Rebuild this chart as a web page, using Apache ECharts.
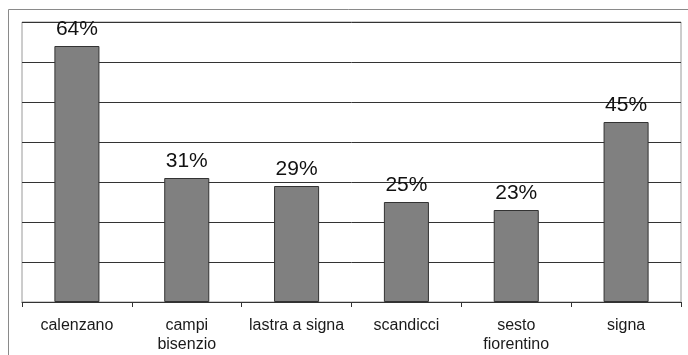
<!DOCTYPE html>
<html>
<head>
<meta charset="utf-8">
<script src="https://cdn.jsdelivr.net/npm/echarts@6/dist/echarts.min.js"></script>
<style>
  html, body { margin: 0; padding: 0; background: #ffffff; }
  #chart { width: 688px; height: 355px; }
</style>
</head>
<body>
<div id="chart"></div>
<script>
// Comuni and the share (percent) for each one
const categories = ['calenzano', 'campi\nbisenzio', 'lastra a signa', 'scandicci', 'sesto\nfiorentino', 'signa'];
const values = [64, 31, 29, 25, 23, 45];
const yMax = 70;
const yStep = 10;

const chart = echarts.init(document.getElementById('chart'), null, { renderer: 'canvas' });

chart.setOption({
  backgroundColor: '#ffffff',
  animation: false,
  grid: { left: 22, right: 7, top: 22, bottom: 53, show: true, borderColor: '#9a9a9a', borderWidth: 1, backgroundColor: 'transparent' },
  graphic: [
    {
      type: 'rect',
      shape: { x: 8.5, y: 9.5, width: 700, height: 400 },
      style: { fill: 'none', stroke: '#8a8a8a', lineWidth: 1 },
      z: -1
    }
  ],
  xAxis: {
    type: 'category',
    data: categories,
    axisLine: { show: true, lineStyle: { color: '#333333', width: 1 } },
    axisTick: { show: true, alignWithLabel: false, length: 5, lineStyle: { color: '#333333' } },
    axisLabel: {
      color: '#1a1a1a',
      fontFamily: 'Liberation Sans, Arial, sans-serif',
      fontSize: 16,
      lineHeight: 19,
      margin: 14,
      interval: 0
    }
  },
  yAxis: {
    type: 'value',
    min: 0,
    max: yMax,
    interval: yStep,
    axisLine: { show: false },
    axisTick: { show: false },
    axisLabel: { show: false },
    splitLine: { show: true, lineStyle: { color: '#333333', width: 1 } }
  },
  series: [
    {
      type: 'bar',
      data: values,
      barWidth: '41%',
      itemStyle: { color: '#808080', borderColor: '#333333', borderWidth: 1 },
      label: {
        show: true,
        position: 'top',
        distance: 6,
        formatter: '{c}%',
        color: '#111111',
        fontFamily: 'Liberation Sans, Arial, sans-serif',
        fontSize: 21
      }
    }
  ]
});
</script>
</body>
</html>
